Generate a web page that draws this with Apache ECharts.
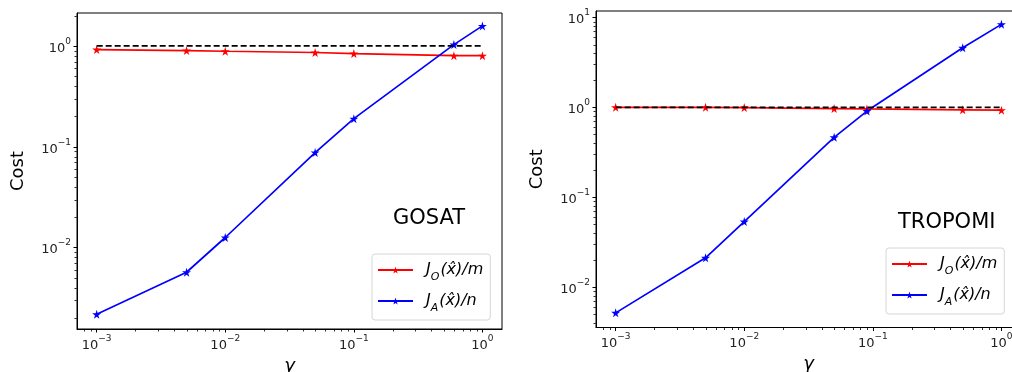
<!DOCTYPE html>
<html><head><meta charset="utf-8">
<script src="https://cdn.jsdelivr.net/npm/echarts@6/dist/echarts.min.js"></script>
<style>html,body{margin:0;padding:0;background:#fff;overflow:hidden}#c{width:1040px;height:372px}</style>
</head><body><div id="c"></div>
<script>
// ---- data ----
const gammaGosat = [0.001, 0.005, 0.01, 0.05, 0.1, 0.6, 1];
const gosatJO = [0.92, 0.90, 0.885, 0.86, 0.84, 0.80, 0.80];
const gosatJA = [0.00218, 0.0057, 0.0126, 0.0877, 0.19, 1.03, 1.58];
const gammaTropomi = [0.001, 0.005, 0.01, 0.05, 0.09, 0.5, 1];
const tropomiJO = [1.0, 1.0, 0.995, 0.97, 0.96, 0.94, 0.93];
const tropomiJA = [0.00518, 0.0212, 0.0537, 0.464, 0.91, 4.6, 8.38];
const refX = [0.001, 1];
const refY = [1, 1];
const panelTitles = ['GOSAT', 'TROPOMI'];
const seriesNames = ['JO', 'JA'];
const xRange = [[7.03e-4, 1.42], [7.03e-4, 1.42]];
const yRange = [[1.56e-3, 2.12], [3.56e-3, 11.8]];

const STAR = 'path://M50,0 L61,35 L98,35 L68,56 L79,90 L50,69 L21,90 L32,56 L2,35 L39,35Z';
const FONT = 'DejaVu Sans';

function zip(xs, ys) { return xs.map((x, i) => [x, ys[i]]); }
function powLabel(v) {
  const e = Math.round(Math.log10(v));
  const s = e < 0 ? '\u2212' + (-e) : String(e);
  return '{b|10}{s|' + s + '}';
}
const richLab = {
  b: { fontSize: 13, fontFamily: FONT, color: '#222', lineHeight: 18, verticalAlign: 'bottom' },
  s: { fontSize: 9, fontFamily: FONT, color: '#222', lineHeight: 18, verticalAlign: 'top' }
};

const grids = [
  { left: 77, top: 13, width: 425, height: 316 },
  { left: 596, top: 11, width: 425, height: 316.5 }
];

const xAxes = [], yAxes = [], series = [], legends = [];
const panels = [
  { gx: gammaGosat, jo: gosatJO, ja: gosatJA },
  { gx: gammaTropomi, jo: tropomiJO, ja: tropomiJA }
];
panels.forEach((p, i) => {
  xAxes.push({
    type: 'log', logBase: 10, gridIndex: i, min: xRange[i][0], max: xRange[i][1],
    axisLine: { show: true, lineStyle: { color: '#000', width: 1 } },
    axisTick: { show: true, length: 3.5, lineStyle: { color: '#000', width: 1 } },
    axisLabel: { formatter: powLabel, rich: richLab, margin: 5, showMinLabel: false, showMaxLabel: false },
    splitLine: { show: false },
    name: '\u03b3', nameLocation: 'middle', nameGap: 25,
    nameTextStyle: { fontSize: 18, fontFamily: FONT, fontStyle: 'italic', color: '#000' }
  });
  yAxes.push({
    type: 'log', logBase: 10, gridIndex: i, min: yRange[i][0], max: yRange[i][1],
    axisLine: { show: true, lineStyle: { color: '#000', width: 1 } },
    axisTick: { show: true, length: 3.5, lineStyle: { color: '#000', width: 1 } },
    axisLabel: { formatter: powLabel, rich: richLab, margin: 6, showMinLabel: false, showMaxLabel: false },
    splitLine: { show: false },
    name: 'Cost', nameLocation: 'middle', nameGap: 50, nameRotate: 90,
    nameTextStyle: { fontSize: 18, fontFamily: FONT, color: '#000' }
  });
  series.push({
    name: seriesNames[0], type: 'line', xAxisIndex: i, yAxisIndex: i,
    data: zip(p.gx, p.jo), symbol: STAR, symbolSize: 9,
    lineStyle: { color: '#ff0000', width: 1.7 }, itemStyle: { color: '#ff0000' }
  });
  series.push({
    name: seriesNames[1], type: 'line', xAxisIndex: i, yAxisIndex: i,
    data: zip(p.gx, p.ja), symbol: STAR, symbolSize: 9,
    lineStyle: { color: '#0000ff', width: 1.7 }, itemStyle: { color: '#0000ff' }
  });
  series.push({
    name: 'ref', type: 'line', xAxisIndex: i, yAxisIndex: i,
    data: zip(refX, refY), symbol: 'none',
    lineStyle: { color: '#000', width: 1.7, type: [6, 3] }, z: 5
  });
});

const legendPos = [{ left: 372, top: 254 }, { left: 886, top: 248 }];
legendPos.forEach((lp) => {
  legends.push({
    data: seriesNames, orient: 'vertical', left: lp.left, top: lp.top,
    itemWidth: 35, itemHeight: 9, itemGap: 10,
    padding: [8, 7, 6, 5], borderColor: '#d6d6d6', borderWidth: 1, borderRadius: 3,
    backgroundColor: 'rgba(255,255,255,0.8)',
    selectedMode: false,
    formatter: function (n) {
      return n === 'JO' ? '{p|J}{sub|O}{i|(x\u0302)/m}' : '{p|J}{sub|A}{i|(x\u0302)/n}';
    },
    textStyle: {
      rich: {
        p: { fontSize: 16, fontFamily: FONT, fontStyle: 'italic', color: '#000', lineHeight: 18, verticalAlign: 'middle', padding: [0, 0, 0, 8] },
        i: { fontSize: 16, fontFamily: FONT, fontStyle: 'italic', color: '#000', lineHeight: 18, verticalAlign: 'middle' },
        sub: { fontSize: 11, fontFamily: FONT, fontStyle: 'italic', color: '#000', lineHeight: 18, verticalAlign: 'bottom', padding: [0, 1, -4, 0] }
      }
    }
  });
});

const chart = echarts.init(document.getElementById('c'), null, { renderer: 'canvas' });
const titleEls = [
  { type: 'text', left: 393, top: 208, style: { text: panelTitles[0], fontSize: 21, fontFamily: FONT, fill: '#000' } },
  { type: 'text', left: 898, top: 212, style: { text: panelTitles[1], fontSize: 21, fontFamily: FONT, fill: '#000' } }
];
chart.setOption({
  backgroundColor: '#fff',
  animation: false,
  grid: grids.map(g => Object.assign({ show: true, borderColor: '#000', borderWidth: 1, backgroundColor: 'transparent', containLabel: false, outerBoundsMode: 'none' }, g)),
  xAxis: xAxes, yAxis: yAxes, series: series, legend: legends,
  graphic: titleEls
});

// minor ticks (2..9 x 10^k) computed through the axes' own scales
function minorTicks() {
  const els = [];
  [0, 1].forEach(i => {
    const g = grids[i];
    const bottom = g.top + g.height, left = g.left;
    for (let k = -4; k <= 1; k++) {
      for (let m = 2; m <= 9; m++) {
        const v = m * Math.pow(10, k);
        if (v > xRange[i][0] && v < xRange[i][1]) {
          const px = Math.round(chart.convertToPixel({ xAxisIndex: i }, v)) + 0.5;
          els.push({ type: 'line', shape: { x1: px, y1: bottom, x2: px, y2: bottom + 2.5 }, style: { stroke: '#333', lineWidth: 1 }, silent: true });
        }
        if (v > yRange[i][0] && v < yRange[i][1]) {
          const py = Math.round(chart.convertToPixel({ yAxisIndex: i }, v)) + 0.5;
          els.push({ type: 'line', shape: { x1: left, y1: py, x2: left - 2.5, y2: py }, style: { stroke: '#333', lineWidth: 1 }, silent: true });
        }
      }
    }
  });
  return els;
}
chart.setOption({ graphic: titleEls.concat(minorTicks()) });
</script></body></html>
